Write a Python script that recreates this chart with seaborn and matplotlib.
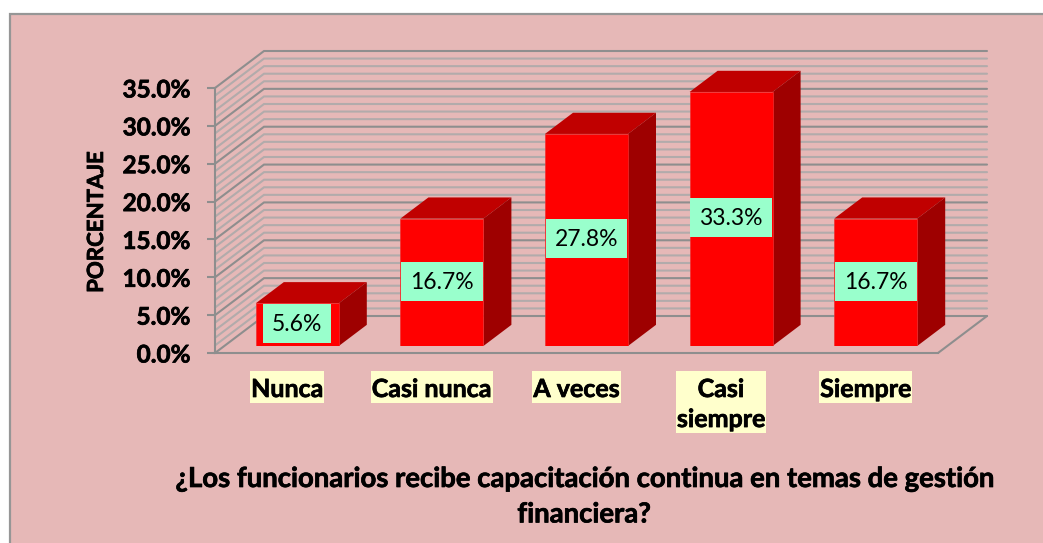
import matplotlib
matplotlib.use("Agg")
import matplotlib.pyplot as plt
import matplotlib.patheffects as pe
import numpy as np
import pandas as pd
import seaborn as sns
from matplotlib.patches import Polygon, Rectangle
from matplotlib.path import Path

# Datos
categorias = ["Nunca", "Casi nunca", "A veces", "Casi siempre", "Siempre"]
etiquetas_x = ["Nunca", "Casi nunca", "A veces", "Casi\nsiempre", "Siempre"]
porcentajes = [5.6, 16.7, 27.8, 33.3, 16.7]
ticks_y = [0, 5, 10, 15, 20, 25, 30, 35]

titulo = "¿Los funcionarios recibe capacitación continua en temas de gestión\nfinanciera?"

sns.set_theme(style="white")
plt.rcParams["font.family"] = ["Lato", "DejaVu Sans"]

ANCHO, ALTO = 1043, 543
FONDO = "#e6b8b7"
GRIS = "#8e8e8e"
GRIS_CLARO = "#b2abab"
TRAZO = [pe.withStroke(linewidth=0.5, foreground="black")]   # engrosa un poco la negrita


def rect_px(x0, x1, y_abajo, y_arriba):
    return [x0 / ANCHO, 1 - y_abajo / ALTO, (x1 - x0) / ANCHO, (y_abajo - y_arriba) / ALTO]


# Caja de texto con margenes distintos en pixeles: lados, arriba y abajo
def caja(lados, arriba, abajo):
    def estilo(x0, y0, w, h, mutation_size):
        x1, y1 = x0 + w + lados, y0 + h + arriba
        x0, y0 = x0 - lados, y0 - abajo
        return Path([(x0, y0), (x1, y0), (x1, y1), (x0, y1), (x0, y0)],
                    [Path.MOVETO, Path.LINETO, Path.LINETO, Path.LINETO, Path.CLOSEPOLY])
    return estilo


fig = plt.figure(figsize=(ANCHO / 100, ALTO / 100), dpi=100, facecolor="white")
fig.add_artist(Rectangle((9.5 / ANCHO, -0.1), 1.1, 1.1 - 14.5 / ALTO, transform=fig.transFigure,
                         fc=FONDO, ec="#969696", lw=1.6, zorder=-1))

# Ejes del plano frontal: paredes, piso y ticks
ax = fig.add_axes(rect_px(215, 938, 353, 88), facecolor="none")
ax.set_xlim(0, 5)
ax.set_ylim(0, 35)

px_x = 5 / 723   # unidades de x por pixel
px_y = 35 / 265  # unidades de y por pixel
prof_x, prof_y = 49 * px_x, 37 * px_y

# Lineas de division menores y mayores sobre las dos paredes
for v in range(0, 36):
    mayor = v % 5 == 0
    ax.plot([0, prof_x, 5 + prof_x], [v, v + prof_y, v + prof_y],
            color=GRIS if mayor else GRIS_CLARO, lw=1.5, clip_on=False,
            zorder=2 if mayor else 1, solid_joinstyle="miter")
ax.plot([5, 5 + prof_x], [0, prof_y], color=GRIS, lw=1.5, clip_on=False)

sns.despine(ax=ax)
ax.spines["left"].set_color(GRIS)
ax.spines["bottom"].set_color(GRIS)
ax.spines["left"].set_linewidth(1.5)
ax.spines["bottom"].set_linewidth(1.5)

ax.set_yticks(ticks_y)
ax.set_yticklabels([f"{t:.1f}%" for t in ticks_y], fontweight="bold", fontsize=17.5, color="black",
                   path_effects=TRAZO)
ax.tick_params(axis="y", length=6, width=1.5, color=GRIS, pad=12, left=True)

ax.set_xticks(np.arange(5) + 0.5)
ax.set_xticklabels(etiquetas_x, fontweight="bold", fontsize=18, color="black", linespacing=1.37,
                   bbox=dict(boxstyle=caja(1, 7, 2), fc="#ffffcc", ec="none"), path_effects=TRAZO)
ax.tick_params(axis="x", length=0, pad=18)

ax.set_ylabel("PORCENTAJE", fontweight="bold", fontsize=16, color="black", path_effects=TRAZO)
ax.yaxis.set_label_coords((107 - 215) / 723, (353 - 222) / 265)
ax.set_xlabel(titulo, fontweight="bold", fontsize=19.8, color="black", linespacing=1.45, path_effects=TRAZO)
ax.xaxis.set_label_coords((584 - 215) / 723, (353 - 466) / 265, transform=ax.transAxes)
ax.xaxis.label.set_verticalalignment("top")

# Ejes de las barras, a media profundidad del piso
ax_b = fig.add_axes(rect_px(225, 948, 346, 79), facecolor="none")
df = pd.DataFrame({"categoria": categorias, "porcentaje": porcentajes})
ancho_barra = 83 / 144.6
sns.barplot(data=df, x="categoria", y="porcentaje", ax=ax_b, color="#ff0000", saturation=1,
            width=ancho_barra, edgecolor="#f03030", linewidth=0.5, zorder=3)
ax_b.set_xlim(-0.5, 4.5)
ax_b.set_ylim(0, 35)
ax_b.axis("off")

# Caras superior y lateral de cada barra
d_x, d_y = 28 * px_x, 21 * px_y
m = ancho_barra / 2
for i, v in enumerate(porcentajes):
    ax_b.add_patch(Polygon([(i - m, v), (i + m, v), (i + m + d_x, v + d_y), (i - m + d_x, v + d_y)],
                           fc="#c00000", ec="none", clip_on=False, zorder=2))
    ax_b.add_patch(Polygon([(i + m, 0), (i + m + d_x, d_y), (i + m + d_x, v + d_y), (i + m, v)],
                           fc="#9e0000", ec="none", clip_on=False, zorder=2))
    ax_b.text(i, v / 2, f"{v:.1f}%", ha="center", va="center", fontsize=16.5, color="black",
              bbox=dict(boxstyle=caja(9, 10, 8), fc="#99ffcc", ec="none"), zorder=4, clip_on=False)

fig.savefig("out.png", dpi=100, facecolor="white")
